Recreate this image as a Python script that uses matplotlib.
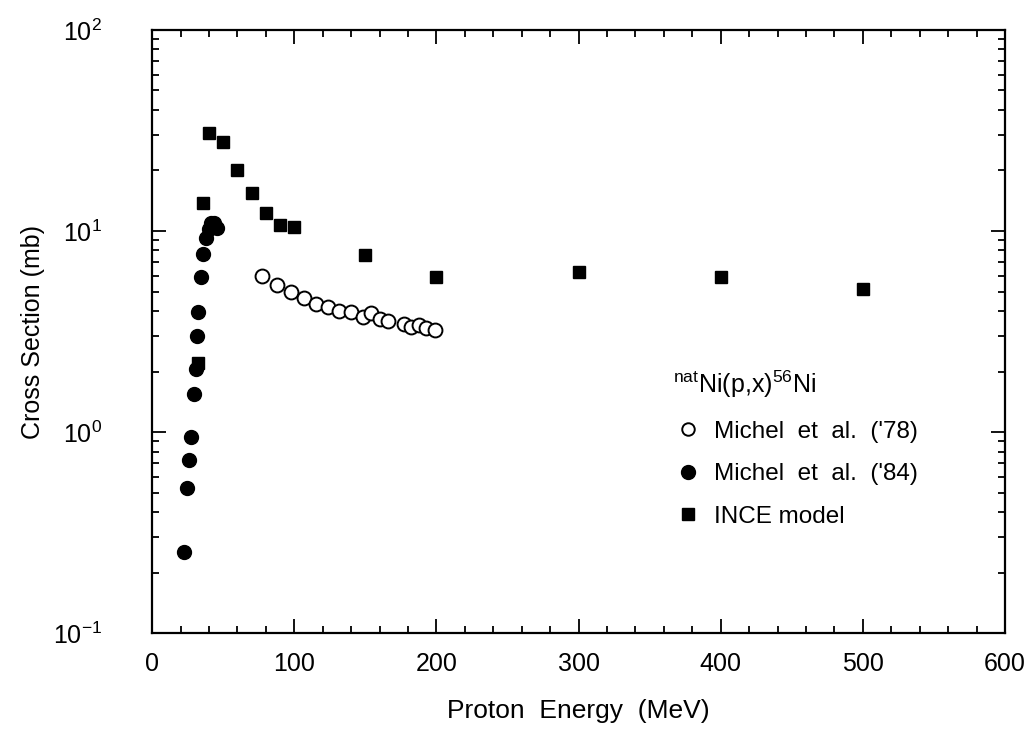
import matplotlib
matplotlib.use("Agg")
import matplotlib.pyplot as plt
from matplotlib.lines import Line2D
from matplotlib.ticker import MultipleLocator, LogLocator, NullFormatter

plt.rcParams['font.family'] = ['Liberation Sans', 'DejaVu Sans']
plt.rcParams['mathtext.fontset'] = 'custom'
plt.rcParams['mathtext.rm'] = 'Liberation Sans'
plt.rcParams['mathtext.it'] = 'Liberation Sans'
plt.rcParams['mathtext.default'] = 'regular'

# Michel et al. ('78) - open circles
e_michel78 = [77.5, 88, 98, 107, 115.5, 124, 131.7, 140, 148, 154, 160, 166,
              177, 182, 188, 193, 199]
xs_michel78 = [5.97, 5.39, 4.97, 4.64, 4.33, 4.19, 4.0, 3.95, 3.73, 3.91, 3.65,
               3.57, 3.45, 3.33, 3.41, 3.29, 3.22]

# Michel et al. ('84) - filled circles
e_michel84 = [22.5, 24.6, 26, 27.5, 29.6, 31, 31.7, 32.4, 34.5, 36, 38, 40,
              41.5, 43.7, 45.8]
xs_michel84 = [0.253, 0.526, 0.726, 0.944, 1.55, 2.06, 3.0, 3.95, 5.9, 7.7,
               9.2, 10.2, 10.9, 10.9, 10.4]

# INCE model - filled squares
e_ince = [32, 36, 40, 50, 60, 70, 80, 90, 100, 150, 200, 300, 400, 500]
xs_ince = [2.2, 13.8, 30.7, 27.7, 20.1, 15.5, 12.3, 10.7, 10.5, 7.6, 5.9,
           6.25, 5.9, 5.14]

fig = plt.figure(figsize=(10.35, 7.31), dpi=100)
ax = fig.add_axes([0.147, 0.134, 0.824, 0.825])

ax.plot(e_ince, xs_ince, linestyle='none', marker='s', markersize=8.5,
        color='black', markeredgecolor='black')
ax.plot(e_michel84, xs_michel84, linestyle='none', marker='o', markersize=10,
        color='black', markeredgecolor='black')
ax.plot(e_michel78, xs_michel78, linestyle='none', marker='o', markersize=10,
        markerfacecolor='white', markeredgecolor='black', markeredgewidth=1.4)

ax.set_yscale('log')
ax.set_xlim(0, 600)
ax.set_ylim(0.1, 100)

ax.xaxis.set_major_locator(MultipleLocator(100))
ax.xaxis.set_minor_locator(MultipleLocator(20))
ax.yaxis.set_major_locator(LogLocator(base=10))
ax.yaxis.set_minor_locator(LogLocator(base=10, subs=range(2, 10)))
ax.yaxis.set_minor_formatter(NullFormatter())

ax.tick_params(which='both', direction='in', top=True, right=True,
               width=1.3, labelsize=18)
ax.tick_params(which='major', length=10)
ax.tick_params(which='minor', length=5)
ax.tick_params(axis='x', which='major', pad=14)
ax.tick_params(axis='y', which='major', pad=36)
for s in ax.spines.values():
    s.set_linewidth(1.6)

ax.set_xlabel('Proton  Energy  (MeV)', fontsize=19, labelpad=16)
ax.set_ylabel('Cross Section (mb)', fontsize=18, labelpad=6)

handles = [
    Line2D([], [], linestyle='none', marker='o', markersize=9,
           markerfacecolor='white', markeredgecolor='black', markeredgewidth=1.4),
    Line2D([], [], linestyle='none', marker='o', markersize=10, color='black'),
    Line2D([], [], linestyle='none', marker='s', markersize=8.5, color='black'),
]
labels = ["Michel  et  al.  ('78)", "Michel  et  al.  ('84)", "INCE model"]
leg = ax.legend(handles, labels, title=r'$^{nat}$Ni(p,x)$^{56}$Ni',
                loc='upper left', bbox_to_anchor=(0.585, 0.475),
                frameon=False, fontsize=17.5, title_fontsize=18,
                alignment='left', handletextpad=0.5, labelspacing=0.85,
                handlelength=1.2)

fig.savefig('out.png', dpi=100)
